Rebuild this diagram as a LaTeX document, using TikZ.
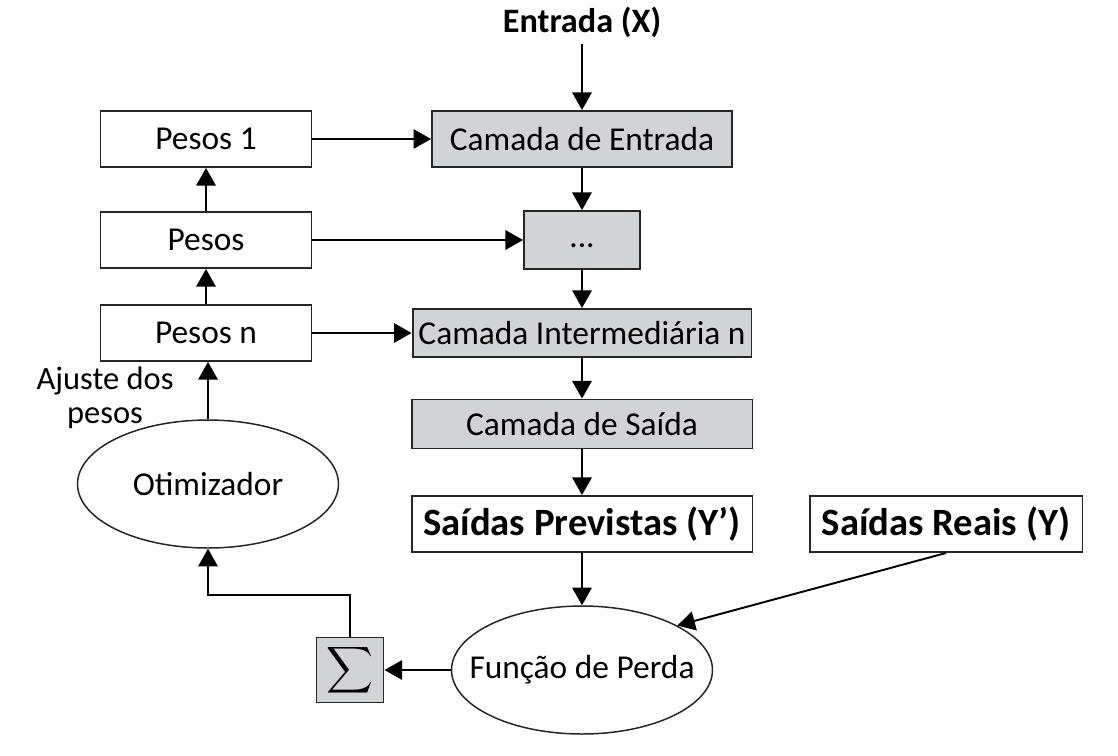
\documentclass[tikz,border=0pt]{standalone}
\usepackage{fontspec}
\setmainfont{Carlito}
\usepackage{tikz}
\usetikzlibrary{shapes.geometric,arrows.meta}
\definecolor{camgray}{RGB}{209,211,212}

\begin{document}
\begin{tikzpicture}[x=0.02cm,y=-0.02cm,
  box/.style={draw=black!85, line width=1.1pt, inner sep=0pt, font=\fontsize{19}{21}\selectfont},
  layer/.style={box, fill=camgray},
  outbox/.style={box, font=\fontsize{22}{24}\selectfont\bfseries},
  oval/.style={ellipse, draw=black!85, line width=0.85pt, inner xsep=-0.5cm, inner ysep=0pt,
    minimum width=5.22cm, minimum height=2.56cm, font=\fontsize{19}{21}\selectfont},
  seta/.style={line width=1.1pt, -{Triangle[length=10pt,width=11pt]}}]
\useasboundingbox (0,0) rectangle (1118,755);
% pesos
\node [box, minimum width=4.22cm, minimum height=1.12cm] (p1) at (206,139) {Pesos 1};
\node [box, minimum width=4.22cm, minimum height=1.12cm] (pm) at (206,240) {Pesos};
\node [box, minimum width=4.22cm, minimum height=1.12cm] (pn) at (206,333) {Pesos n};
% camadas
\node [font=\fontsize{19.5}{21}\selectfont\bfseries] (ent) at (582,22) {Entrada (X)};
\node [layer, minimum width=6.0cm, minimum height=1.12cm] (cin) at (582,139) {Camada de Entrada};
\node [layer, minimum width=2.32cm, minimum height=1.16cm] (dots) at (582,240) {\strut...};
\node [layer, minimum width=6.78cm, minimum height=0.96cm] (cmn) at (582,333) {Camada Intermediária n};
\node [layer, minimum width=6.82cm, minimum height=0.98cm] (sai) at (582,424) {Camada de Saída};
\node [outbox, minimum width=6.82cm, minimum height=1.12cm] (prev) at (582,524) {Saídas Previstas (Y’)};
\node [outbox, minimum width=5.46cm, minimum height=1.12cm] (reais) at (946,524) {Saídas Reais (Y)};
% otimizacao
\node [oval] (opt) at (208,484) {Otimizador};
\node [oval] (perda) at (582,670) {Função de Perda};
\node [layer, minimum width=1.34cm, minimum height=1.3cm] (sig) at (350,670) {\scalebox{1.85}{$\displaystyle\sum$}};
\node [align=center, inner sep=0pt, font=\fontsize{18.5}{19.5}\selectfont] (ajuste) at (105,398) {Ajuste dos\\pesos};
\coordinate (volta) at (350,595);

\draw [seta] (ent) -- (cin);
\draw [seta] (cin) -- (dots);
\draw [seta] (dots) -- (cmn);
\draw [seta] (cmn) -- (sai);
\draw [seta] (sai) -- (prev);
\draw [seta] (prev) -- (perda);
\draw [seta] (reais.south) -- (perda.25);
\draw [seta] (p1) -- (cin);
\draw [seta] (pm) -- (dots);
\draw [seta] (pn) -- (cmn);
\draw [seta] (pn) -- (pm);
\draw [seta] (pm) -- (p1);
\draw [seta] (opt) -- (opt |- pn.south);
\draw [seta] (perda) -- (sig);
\draw [seta] (sig) -- (volta) -| (opt);
\end{tikzpicture}
\end{document}
